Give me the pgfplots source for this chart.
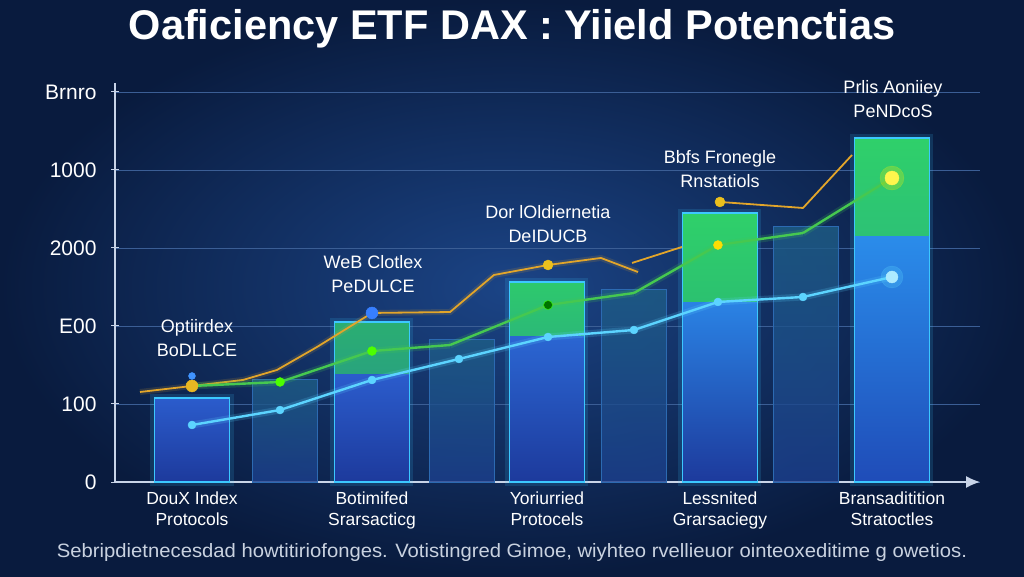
\documentclass[border=0pt]{standalone}
\usepackage{pgfplots}
\pgfplotsset{compat=1.18}
\usepackage{graphicx}
\usepackage{fontspec}
\setmainfont{Liberation Sans}
\usetikzlibrary{arrows.meta}
\definecolor{bgA}{HTML}{1B4486}
\definecolor{bgB}{HTML}{091B3E}
\definecolor{gridc}{HTML}{3B5E95}
\definecolor{axisc}{HTML}{C8D4E8}
\definecolor{cyanE}{HTML}{3CC8FF}
\definecolor{blueT}{HTML}{2B5CCC}
\definecolor{blueB}{HTML}{1D3A9C}
\definecolor{blueT2}{HTML}{2A8CEA}
\definecolor{blueB2}{HTML}{1F4CB8}
\definecolor{greenT}{HTML}{2FD06A}
\definecolor{greenB}{HTML}{25A27C}
\definecolor{greenM}{HTML}{2AAE72}
\definecolor{dimT}{HTML}{1E5E86}
\definecolor{dimB}{HTML}{1C3F8E}
\definecolor{dimE}{HTML}{2C6AB2}
\definecolor{orangeL}{HTML}{E2A52A}
\definecolor{cyanL}{HTML}{5CD4FF}
\definecolor{capc}{HTML}{C9D2E0}
\begin{document}
\begin{tikzpicture}
\useasboundingbox (0pt,0pt) rectangle (1024pt,576pt);
\shade[inner color=bgA, outer color=bgB] (0pt,0pt) rectangle (1024pt,576pt);
\begin{axis}[
  at={(115pt,94pt)}, anchor=south west,
  scale only axis, width=865pt, height=399pt,
  xmin=-0.88, xmax=9.006, ymin=0, ymax=5115,
  axis lines=left,
  x axis line style={draw=axisc, line width=1.2pt, -{Latex[length=14pt,width=12pt]}},
  y axis line style={draw=axisc, line width=1.2pt, -},
  ytick={0,1000,2000,3000,4000,5000},
  yticklabels={0,100,E00,2000,1000,Brnro},
  yticklabel style={font=\fontsize{21}{21}\selectfont, text=white, xshift=-11pt},
  ytick style={draw=axisc, line width=1pt},
  major tick length=8pt, tick align=center,
  xtick={0,2.057,4.057,6.034,8},
  xticklabels={{DouX Index\\Protocols},{Botimifed\\Srarsacticg},{Yoriurried\\Protocels},{Lessnited\\Grarsaciegy},{Bransaditition\\Stratoctles}},
  xticklabel style={font=\fontsize{17.5}{21}\selectfont, text=white, align=center, yshift=-2pt},
  xtick style={draw=none},
  ymajorgrids, grid style={draw=gridc, line width=0.8pt},
  clip=false,
  bb/.style={ybar, bar width=75pt, bar shift=0pt, draw=none},
  db/.style={ybar, bar width=65pt, bar shift=0pt, draw=none},
]
% dim bars
\addplot[db, top color=dimT, bottom color=dimB, opacity=0.8] coordinates {(1.063,1308)};
\addplot[db, top color=dimT, bottom color=dimB, opacity=0.8] coordinates {(3.086,1821)};
\addplot[db, top color=dimT, bottom color=dimB, opacity=0.8] coordinates {(5.051,2474)};
\addplot[db, top color=dimT, bottom color=dimB, opacity=0.8] coordinates {(7.017,3269)};
\addplot[db, fill=none, draw=dimE, line width=1pt] coordinates {(1.063,1308) (3.086,1821) (5.051,2474) (7.017,3269)};
% bright bars: glow
\addplot[bb, fill=none, draw=cyanE, line width=8pt, opacity=0.15] coordinates {(0,1077) (2.057,2051) (4.057,2564) (6.034,3449) (8,4410)};
% green tops
\addplot[bb, top color=greenM, bottom color=greenB!70!blueT] coordinates {(2.057,2051)};
\addplot[bb, top color=greenT!85!greenB, bottom color=greenB!70!blueT] coordinates {(4.057,2564)};
\addplot[bb, top color=greenT, bottom color=greenB] coordinates {(6.034,3449)};
\addplot[bb, top color=greenT, bottom color=greenB!80!blueT2] coordinates {(8,4410)};
% blue bodies
\addplot[bb, top color=blueT, bottom color=blueB] coordinates {(0,1077)};
\addplot[bb, top color=blueT, bottom color=blueB] coordinates {(2.057,1372)};
\addplot[bb, top color=blueT!80!blueT2, bottom color=blueB] coordinates {(4.057,1859)};
\addplot[bb, top color=blueT2!80!blueT, bottom color=blueB] coordinates {(6.034,2295)};
\addplot[bb, top color=blueT2, bottom color=blueB2] coordinates {(8,3141)};
% outlines
\addplot[bb, fill=none, draw=cyanE, line width=1.8pt] coordinates {(0,1077) (2.057,2051) (4.057,2564) (6.034,3449) (8,4410)};
% orange line
\addplot[orangeL, line width=6pt, opacity=0.15] coordinates {(-0.594,1154) (0,1231) (0.583,1308) (0.971,1436) (1.429,1731) (2.057,2167) (2.949,2179) (3.451,2654) (4.069,2782) (4.674,2872) (5.097,2692)};
\addplot[orangeL, line width=1.8pt] coordinates {(-0.594,1154) (0,1231) (0.583,1308) (0.971,1436) (1.429,1731) (2.057,2167) (2.949,2179) (3.451,2654) (4.069,2782) (4.674,2872) (5.097,2692)};
\addplot[orangeL, line width=1.8pt] coordinates {(5.029,2808) (5.6,3013)};
\addplot[orangeL, line width=1.8pt] coordinates {(6.034,3590) (6.983,3513) (7.543,4192)};
% green-yellow line
\addplot[mesh, point meta=x, colormap={gy}{rgb255=(70,200,80) rgb255=(120,215,60) rgb255=(190,220,50) rgb255=(235,215,60) rgb255=(245,215,70)}, line width=7pt, opacity=0.18] coordinates {(0,1231) (1.006,1282) (2.057,1679) (2.949,1756) (4.069,2269) (5.051,2423) (6.011,3038) (6.983,3192) (8,3897)};
\addplot[mesh, point meta=x, colormap={gy}{rgb255=(70,200,80) rgb255=(120,215,60) rgb255=(190,220,50) rgb255=(235,215,60) rgb255=(245,215,70)}, line width=2.4pt] coordinates {(0,1231) (1.006,1282) (2.057,1679) (2.949,1756) (4.069,2269) (5.051,2423) (6.011,3038) (6.983,3192) (8,3897)};
% cyan line
\addplot[cyanL, line width=7pt, opacity=0.18] coordinates {(0,731) (1.006,923) (2.057,1308) (3.051,1577) (4.069,1859) (5.051,1949) (6.011,2308) (6.983,2372) (8,2628)};
\addplot[cyanL, line width=2.4pt] coordinates {(0,731) (1.006,923) (2.057,1308) (3.051,1577) (4.069,1859) (5.051,1949) (6.011,2308) (6.983,2372) (8,2628)};
% markers
\addplot[cyanL, only marks, mark=*, mark size=4pt, mark options={fill=cyanL, draw=cyanL}] coordinates {(0,731) (1.006,923) (2.057,1308) (3.051,1577) (4.069,1859) (5.051,1949) (6.011,2308) (6.983,2372)};
\addplot[cyanL, only marks, mark=*, mark size=11pt, mark options={fill=cyanL, draw=none, opacity=0.25}] coordinates {(8,2628)};
\addplot[cyanL!50!white, only marks, mark=*, mark size=6pt, mark options={fill=cyanL!50!white, draw=cyanL!50!white}] coordinates {(8,2628)};
\addplot[green!60!lime, only marks, mark=*, mark size=4.5pt, mark options={fill=green!60!lime, draw=green!60!lime}] coordinates {(1.006,1282) (2.057,1679)};
\addplot[green!45!black, only marks, mark=*, mark size=4.5pt, mark options={fill=green!45!black, draw=green!70!lime}] coordinates {(4.069,2269)};
\addplot[yellow!80!orange, only marks, mark=*, mark size=4.5pt, mark options={fill=yellow!80!orange, draw=yellow!80!orange}] coordinates {(6.011,3038)};
\addplot[yellow, only marks, mark=*, mark size=12pt, mark options={fill=yellow, draw=none, opacity=0.25}] coordinates {(8,3897)};
\addplot[yellow!70!white, only marks, mark=*, mark size=7pt, mark options={fill=yellow!70!white, draw=yellow!70!white}] coordinates {(8,3897)};
\addplot[orangeL, only marks, mark=*, mark size=6pt, mark options={fill=orangeL!80!yellow, draw=orangeL!80!yellow}] coordinates {(0,1231)};
\addplot[orangeL, only marks, mark=*, mark size=5pt, mark options={fill=orangeL!70!yellow, draw=orangeL!70!yellow}] coordinates {(4.069,2782) (6.034,3590)};
\addplot[cyanL!60!blue, only marks, mark=*, mark size=6pt, mark options={fill=cyanL!60!blue, draw=cyanL!60!blue}] coordinates {(2.057,2167)};
\addplot[cyanL!70!blue, only marks, mark=*, mark size=3.5pt, mark options={fill=cyanL!70!blue, draw=cyanL!70!blue}] coordinates {(0,1359)};
\end{axis}
\node[font=\fontsize{41.5}{46}\selectfont\bfseries, text=white] at (512pt,547pt) {Oaficiency ETF DAX : Yiield Potenctias};
\begin{scope}[every node/.style={font=\fontsize{18}{24}\selectfont, text=white, align=center}]
\node at (197pt,238pt) {Optiirdex\\BoDLLCE};
\node at (373pt,302pt) {WeB Clotlex\\PeDULCE};
\node at (548pt,352pt) {Dor lOldiernetia\\DeIDUCB};
\node at (720pt,407pt) {Bbfs Fronegle\\Rnstatiols};
\node at (893pt,477pt) {Prlis Aoniiey\\PeNDcoS};
\end{scope}
\node[text=capc] at (512pt,23pt) {\resizebox{910pt}{14pt}{\fontsize{18}{18}\selectfont Sebripdietnecesdad howtitiriofonges. Votistingred Gimoe, wiyhteo rvellieuor ointeoxeditime g owetios.}};
\end{tikzpicture}
\end{document}
